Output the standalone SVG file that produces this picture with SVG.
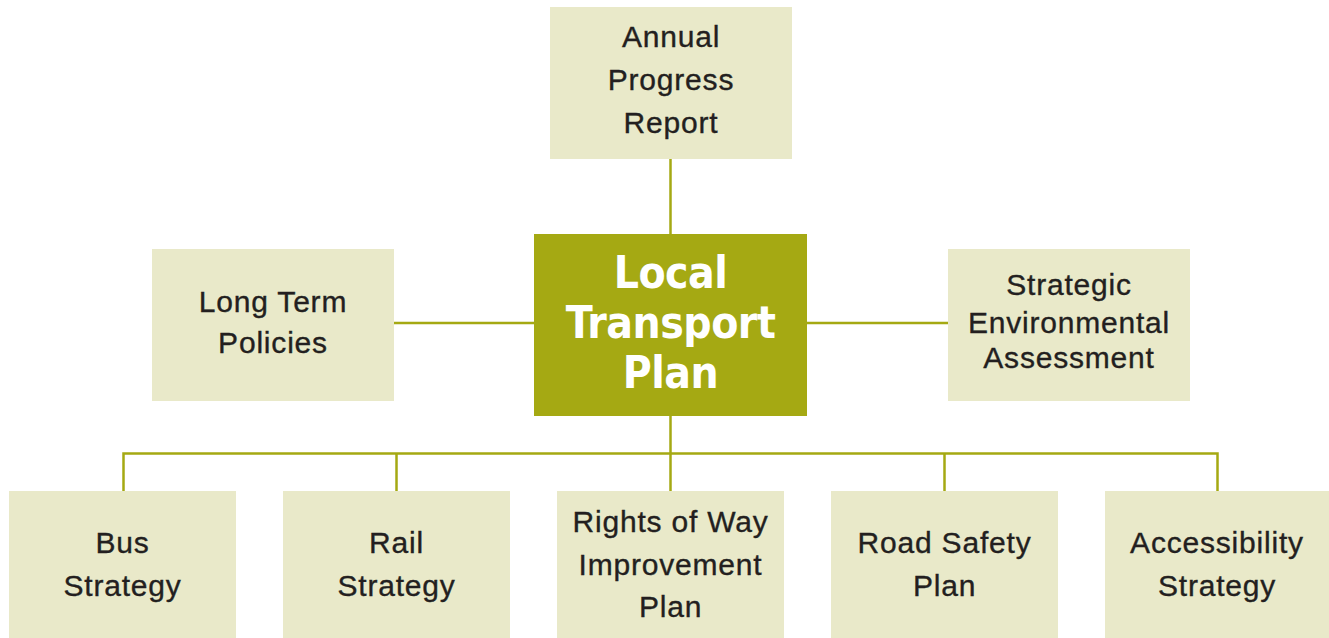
<svg xmlns="http://www.w3.org/2000/svg" width="1329" height="638" viewBox="0 0 1329 638">
<style>
.box{fill:#e9e9c9}
.main{fill:#a5a913}
.t{font-family:"Liberation Sans",Arial,sans-serif;font-size:30px;letter-spacing:0.8px;fill:#231f20;stroke:#231f20;stroke-width:0.35;text-anchor:middle}
.mt{font-family:"DejaVu Sans Condensed","DejaVu Sans",sans-serif;font-weight:bold;font-size:44px;letter-spacing:-0.5px;fill:#ffffff;text-anchor:middle}
.c{stroke:#a5a913;stroke-width:2.5;fill:none}
</style>
<rect width="1329" height="638" fill="#ffffff"/>
<g id="connectors">
<line class="c" x1="670.5" y1="159" x2="670.5" y2="234"/>
<line class="c" x1="394" y1="323" x2="534" y2="323"/>
<line class="c" x1="807" y1="323" x2="948" y2="323"/>
<line class="c" x1="670.5" y1="416" x2="670.5" y2="491"/>
<polyline class="c" points="123.5,491 123.5,453.5 1217.5,453.5 1217.5,491"/>
<line class="c" x1="396.5" y1="453.5" x2="396.5" y2="491"/>
<line class="c" x1="944.5" y1="453.5" x2="944.5" y2="491"/>
</g>
<g id="annual">
<rect class="box" x="550" y="7" width="242" height="152"/>
<text class="t" x="671" y="47">Annual</text>
<text class="t" x="671" y="90">Progress</text>
<text class="t" x="671" y="133">Report</text>
</g>
<g id="longterm">
<rect class="box" x="152" y="249" width="242" height="152"/>
<text class="t" x="273" y="312">Long Term</text>
<text class="t" x="273" y="353">Policies</text>
</g>
<g id="ltp">
<rect class="main" x="534" y="234" width="273" height="182"/>
<text class="mt" x="670.5" y="288">Local</text>
<text class="mt" x="670.5" y="338">Transport</text>
<text class="mt" x="670.5" y="388">Plan</text>
</g>
<g id="sea">
<rect class="box" x="948" y="249" width="242" height="152"/>
<text class="t" x="1069" y="295">Strategic</text>
<text class="t" x="1069" y="333">Environmental</text>
<text class="t" x="1069" y="368">Assessment</text>
</g>
<g id="bus">
<rect class="box" x="9" y="491" width="227" height="147"/>
<text class="t" x="122.5" y="553">Bus</text>
<text class="t" x="122.5" y="596">Strategy</text>
</g>
<g id="rail">
<rect class="box" x="283" y="491" width="227" height="147"/>
<text class="t" x="396.5" y="553">Rail</text>
<text class="t" x="396.5" y="596">Strategy</text>
</g>
<g id="rights">
<rect class="box" x="557" y="491" width="227" height="147"/>
<text class="t" x="670.5" y="532">Rights of Way</text>
<text class="t" x="670.5" y="575">Improvement</text>
<text class="t" x="670.5" y="617">Plan</text>
</g>
<g id="road">
<rect class="box" x="831" y="491" width="227" height="147"/>
<text class="t" x="944.5" y="553">Road Safety</text>
<text class="t" x="944.5" y="596">Plan</text>
</g>
<g id="access">
<rect class="box" x="1105" y="491" width="224" height="147"/>
<text class="t" x="1217" y="553">Accessibility</text>
<text class="t" x="1217" y="596">Strategy</text>
</g>
</svg>
